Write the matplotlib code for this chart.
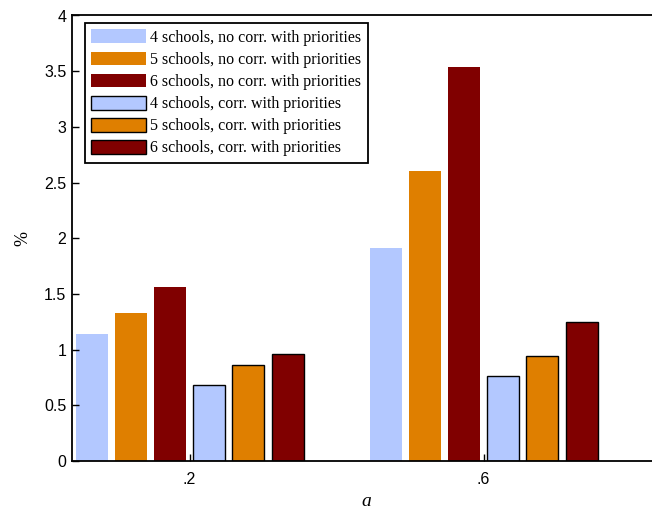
import numpy as np
import matplotlib
matplotlib.use('Agg')
import matplotlib.pyplot as plt

# Share of students (%) by parameter a
a_values = ['.2', '.6']
labels = [
    '4 schools, no corr. with priorities',
    '5 schools, no corr. with priorities',
    '6 schools, no corr. with priorities',
    '4 schools, corr. with priorities',
    '5 schools, corr. with priorities',
    '6 schools, corr. with priorities',
]
no_corr_4 = [1.14, 1.91]
no_corr_5 = [1.33, 2.60]
no_corr_6 = [1.56, 3.54]
corr_4 = [0.68, 0.76]
corr_5 = [0.86, 0.94]
corr_6 = [0.96, 1.25]

series = [no_corr_4, no_corr_5, no_corr_6, corr_4, corr_5, corr_6]
colors = ['#b3c8ff', '#df7f00', '#800000'] * 2
edged = [False, False, False, True, True, True]

fig = plt.figure(figsize=(6.52, 5.11), dpi=100)
ax = fig.add_axes([72 / 652, 50 / 511, 588 / 652, 445.5 / 511])

x = np.arange(1, len(a_values) + 1)
pitch = 0.1333
width = 0.109
for i, (vals, col, edge) in enumerate(zip(series, colors, edged)):
    offs = (i - 2.5) * pitch
    if edge:
        ax.bar(x + offs, vals, width, color=col, edgecolor='black',
               linewidth=1.0, label=labels[i])
    else:
        ax.bar(x + offs, vals, width, color=col, linewidth=0,
               label=labels[i])

ax.set_xlim(0.6, 2.6)
ax.set_ylim(0, 4)
ax.set_xticks(x)
ax.set_xticklabels(a_values)
ax.set_yticks(np.arange(0, 4.01, 0.5))
ax.set_yticklabels(['0', '0.5', '1', '1.5', '2', '2.5', '3', '3.5', '4'])
ax.tick_params(direction='in', length=5, width=1, labelsize=11.5,
               top=False, right=False)
ax.tick_params(axis='y', pad=4)
ax.tick_params(axis='x', pad=8)
for lab in ax.get_xticklabels() + ax.get_yticklabels():
    lab.set_family('Liberation Sans')
for s in ax.spines.values():
    s.set_linewidth(1.3)

ax.set_ylabel('%', family='Liberation Serif', fontsize=13, labelpad=9)
ax.set_xlabel('a', family='Liberation Serif', style='italic', fontsize=14,
              labelpad=4)

leg = ax.legend(loc='upper left', bbox_to_anchor=(85 / 652, 1 - 23 / 511),
                bbox_transform=fig.transFigure, borderaxespad=0,
                prop={'family': 'Liberation Serif', 'size': 11.5},
                handlelength=3.4, handleheight=0.95, handletextpad=0.3,
                labelspacing=0.36, borderpad=0.4, fancybox=False,
                framealpha=1, edgecolor='black')
leg.get_frame().set_linewidth(1.3)

plt.savefig('out.png', dpi=100)
plt.close()
